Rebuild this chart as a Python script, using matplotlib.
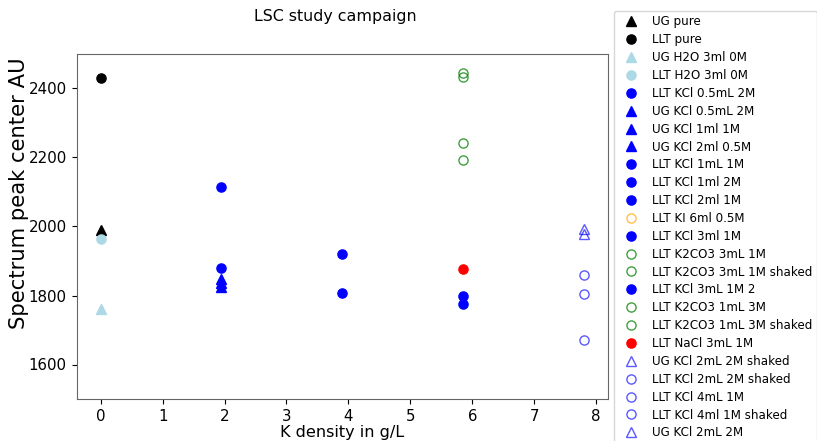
import matplotlib
matplotlib.use("Agg")
import matplotlib.pyplot as plt
import numpy as np

nan = np.nan

labels = [
    "UG pure", "LLT pure", "UG H2O 3ml 0M", "LLT H2O 3ml 0M",
    "LLT KCl 0.5mL 2M", "UG KCl 0.5mL 2M", "UG KCl 1ml 1M", "UG KCl 2ml 0.5M",
    "LLT KCl 1mL 1M", "LLT KCl 1ml 2M", "LLT KCl 2ml 1M", "LLT KI 6ml 0.5M",
    "LLT KCl 3ml 1M", "LLT K2CO3 3mL 1M", "LLT K2CO3 3mL 1M shaked", "LLT KCl 3mL 1M 2",
    "LLT K2CO3 1mL 3M", "LLT K2CO3 1mL 3M shaked", "LLT NaCl 3mL 1M",
    "UG KCl 2mL 2M shaked", "LLT KCl 2mL 2M shaked", "LLT KCl 4mL 1M",
    "LLT KCl 4ml 1M shaked", "UG KCl 2mL 2M",
]
k_density = [0, 0, 0, 0,
             1.95, 1.95, 1.95, 1.95,
             1.95, 3.9, 3.9, 5.85,
             5.85, 5.85, 5.85, 5.85,
             5.85, 5.85, 5.85,
             7.8, 7.8, 7.8,
             7.8, 7.8]
peak_center = [1990, 2430, 1762, 1965,
               2115, 1848, 1835, 1824,
               1879, 1919, 1806, nan,
               1799, 2445, 2433, 1775,
               2241, 2194, 1877,
               1979, 1860, 1803,
               1670, 1993]

# style per series: (marker, color, filled, alpha)
styles = [
    ("^", "black", True, 1), ("o", "black", True, 1),
    ("^", "lightblue", True, 1), ("o", "lightblue", True, 1),
    ("o", "blue", True, 1), ("^", "blue", True, 1), ("^", "blue", True, 1), ("^", "blue", True, 1),
    ("o", "blue", True, 1), ("o", "blue", True, 1), ("o", "blue", True, 1), ("o", "orange", False, 0.7),
    ("o", "blue", True, 1), ("o", "green", False, 0.75), ("o", "green", False, 0.75), ("o", "blue", True, 1),
    ("o", "green", False, 0.75), ("o", "green", False, 0.75), ("o", "red", True, 1),
    ("^", "blue", False, 0.65), ("o", "blue", False, 0.65), ("o", "blue", False, 0.65),
    ("o", "blue", False, 0.65), ("^", "blue", False, 0.65),
]

W, H, DPI = 817, 441, 100
fig = plt.figure(figsize=(W / DPI, H / DPI), dpi=DPI)
ax = fig.add_axes([76.5 / W, 1 - 399 / H, (608 - 76.5) / W, (399 - 54) / H])

for lab, x, y, (m, c, filled, a) in zip(labels, k_density, peak_center, styles):
    ax.plot([x], [y], linestyle="none", marker=m, markersize=6.6,
            markerfacecolor=c if filled else "none", markeredgecolor=c,
            markeredgewidth=1.0, alpha=a, label=lab)

ax.set_ylim(1500, 2500)
ax.set_yticks([1600, 1800, 2000, 2200, 2400])
ax.set_xticks(range(0, 9))
ax.tick_params(labelsize=10.8)
ax.set_xlabel("K density in g/L", fontsize=11.6, labelpad=1)
ax.set_ylabel("Spectrum peak center AU", fontsize=15.2)
ax.yaxis.set_label_coords(-0.09, 0.597)
for s in ax.spines.values():
    s.set_color("#666666")

fig.text(335 / W, 1 - 16 / H, "LSC study campaign", fontsize=11.4, ha="center", va="center")

ax.legend(loc="upper left", bbox_to_anchor=(614 / W, 1 - 10.7 / H),
          bbox_transform=fig.transFigure, borderaxespad=0, fontsize=8.55,
          labelspacing=0.41, numpoints=1)

fig.savefig("out.png", dpi=DPI)
